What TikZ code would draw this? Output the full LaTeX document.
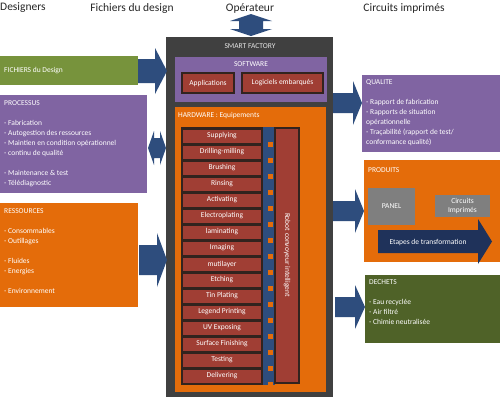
\documentclass[tikz,border=0pt]{standalone}
\usepackage{fontspec}
\setmainfont{Carlito}
\definecolor{arrowc}{RGB}{46,77,125}
\definecolor{purp}{RGB}{128,100,162}
\definecolor{orng}{RGB}{228,108,10}
\definecolor{grn}{RGB}{119,147,60}
\definecolor{dgrn}{RGB}{79,98,40}
\definecolor{stepred}{RGB}{160,62,52}
\definecolor{factgrey}{RGB}{64,64,64}
\definecolor{boxgrey}{RGB}{127,127,127}
\definecolor{navyc}{RGB}{31,50,90}
\definecolor{edgec}{RGB}{50,35,30}
\newcommand{\harrow}[7]{% color x1 x2 yc body head headlen
  \fill[#1] (#2,{#4-#5}) -- ({#3-#7},{#4-#5}) -- ({#3-#7},{#4-#6}) -- (#3,#4) -- ({#3-#7},{#4+#6}) -- ({#3-#7},{#4+#5}) -- (#2,{#4+#5}) -- cycle;}
\newcommand{\hdarrow}[6]{% x1 x2 yc body head headlen
  \fill[arrowc] (#1,#3) -- ({#1+#6},{#3-#5}) -- ({#1+#6},{#3-#4}) -- ({#2-#6},{#3-#4}) -- ({#2-#6},{#3-#5}) -- (#2,#3) -- ({#2-#6},{#3+#5}) -- ({#2-#6},{#3+#4}) -- ({#1+#6},{#3+#4}) -- ({#1+#6},{#3+#5}) -- cycle;}
\newcommand{\vdarrow}[6]{% y1 y2 xc body head headlen
  \fill[arrowc] (#3,#1) -- ({#3-#5},{#1+#6}) -- ({#3-#4},{#1+#6}) -- ({#3-#4},{#2-#6}) -- ({#3-#5},{#2-#6}) -- (#3,#2) -- ({#3+#5},{#2-#6}) -- ({#3+#4},{#2-#6}) -- ({#3+#4},{#1+#6}) -- ({#3+#5},{#1+#6}) -- cycle;}
\begin{document}
\begin{tikzpicture}[x=1pt,y=-1pt,
  rbox/.style={rectangle, inner sep=0pt, outer sep=0pt, anchor=north west},
  wtxt/.style={text=white, inner sep=0pt, font=\fontsize{7.5}{10}\selectfont},
  boxtxt/.style={wtxt, anchor=north west, align=left},
  hdr/.style={text=black!85, inner sep=0pt, font=\fontsize{11.5}{13}\selectfont},
  stepbox/.style={rectangle, fill=stepred, minimum width=78pt, minimum height=13pt, inner sep=0pt, wtxt},
  redbox/.style={rbox, fill=stepred, draw=edgec, line width=1.5pt}
]
\useasboundingbox (0,0) rectangle (500,400);
\fill[white] (0,0) rectangle (500,400);

% header
\node[hdr, anchor=west] (hdes) at (0,8) {Designers};
\node[hdr] (hfich) at (132,8) {Fichiers du design};
\node[hdr] (hop) at (250,8) {Opérateur};
\node[hdr] (hcirc) at (404,8) {Circuits imprimés};

% top double arrow
\vdarrow{14}{36}{251}{12}{21}{7}

% factory
\node[rbox, fill=factgrey, minimum width=167pt, minimum height=360pt] (fact) at (166,37) {};
\node[wtxt, text=white!90!black] (facttitle) at (250,46) {SMART FACTORY};

% software
\node[rbox, fill=purp, minimum width=152pt, minimum height=45pt] (soft) at (175,57) {};
\node[wtxt] (softtitle) at (251,64.5) {SOFTWARE};
\node[redbox, minimum width=52pt, minimum height=20pt] (apps) at (182,73) {};
\node[wtxt] at (apps.center) {Applications};
\node[redbox, minimum width=81pt, minimum height=20pt] (logi) at (242,73) {};
\node[wtxt] at (logi.center) {Logiciels embarqués};

% hardware
\node[rbox, fill=orng, minimum width=151pt, minimum height=285pt] (hard) at (175,107) {};
\node[wtxt, anchor=west] (hardtitle) at (178,116) {HARDWARE : Equipements};
\node[rbox, fill=edgec, minimum width=82pt, minimum height=258pt] (col) at (181,127) {};
\fill[arrowc] (263,127) rectangle (275,385);
\foreach \lbl [count=\i from 0] in {Supplying,Drilling-milling,Brushing,Rinsing,Activating,Electroplating,laminating,Imaging,mutilayer,Etching,Tin Plating,Legend Printing,UV Exposing,Surface Finishing,Testing,Delivering}{
  \node[stepbox] (s\i) at (222,{136+16*\i}) {\lbl};
  \fill[orng] (268,{136+16*\i+6}) rectangle (273,{136+16*\i+11});
}
\node[redbox, minimum width=24pt, minimum height=255pt] (robot) at (275,128) {};
\node[wtxt, rotate=-90] (robottxt) at (287,255) {Robot convoyeur intelligent};

% left boxes
\node[rbox, fill=grn, minimum width=138pt, minimum height=29pt] (fich) at (0,56) {};
\node[wtxt, anchor=west] (fichtxt) at (4,71) {FICHIERS du Design};
\node[rbox, fill=purp, minimum width=147pt, minimum height=98pt] (proc) at (0,95) {};
\node[boxtxt] (proctxt) at (4,100.5) {PROCESSUS\\[10pt]- Fabrication\\- Autogestion des ressources\\- Maintien en condition opérationnel\\- continu de qualité\\[10pt]- Maintenance \& test\\- Télédiagnostic};
\node[rbox, fill=orng, minimum width=138pt, minimum height=104pt] (res) at (0,203) {};
\node[boxtxt] (restxt) at (4,208.5) {RESSOURCES\\[10pt]- Consommables\\- Outillages\\[10pt]- Fluides\\- Energies\\[10pt]- Environnement};

% left arrows
\harrow{arrowc}{138}{167}{71}{12}{23}{12}
\hdarrow{148}{166}{148}{10}{17}{6}
\harrow{arrowc}{139}{167}{260}{15}{27}{10}

% right boxes
\node[rbox, fill=purp, minimum width=138pt, minimum height=77pt] (qual) at (362,75) {};
\node[boxtxt] (qualtxt) at (366,79.5) {QUALITE\\[10pt]- Rapport de fabrication\\- Rapports de situation\\opérationnelle\\- Traçabilité (rapport de test/\\conformance qualité)};
\node[rbox, fill=orng, minimum width=136pt, minimum height=102pt] (prod) at (364,160) {};
\node[wtxt, anchor=west] (prodtxt) at (368,170) {PRODUITS};
\node[rbox, fill=boxgrey, minimum width=47pt, minimum height=37pt] (panel) at (368,188) {};
\node[wtxt] at (panel.center) {PANEL};
\node[rbox, fill=boxgrey, minimum width=55pt, minimum height=22pt] (circ) at (435,195) {};
\node[wtxt, align=center, font=\fontsize{7.5}{9}\selectfont] at (circ.center) {Circuits\\Imprimés};
\harrow{navyc}{378}{492}{241.5}{11.5}{22.5}{14}
\node[wtxt] (etapes) at (428,242) {Etapes de transformation};
\node[rbox, fill=dgrn, minimum width=135pt, minimum height=68pt] (dech) at (365,275) {};
\node[boxtxt] (dechtxt) at (369,279.5) {DECHETS\\[10pt]- Eau recyclée\\- Air filtré\\- Chimie neutralisée};

% right arrows
\harrow{arrowc}{333}{362}{103}{10}{22}{9}
\harrow{arrowc}{333}{364}{211}{10}{22}{9}
\harrow{arrowc}{335}{365}{307}{10}{22}{10}
\end{tikzpicture}
\end{document}
